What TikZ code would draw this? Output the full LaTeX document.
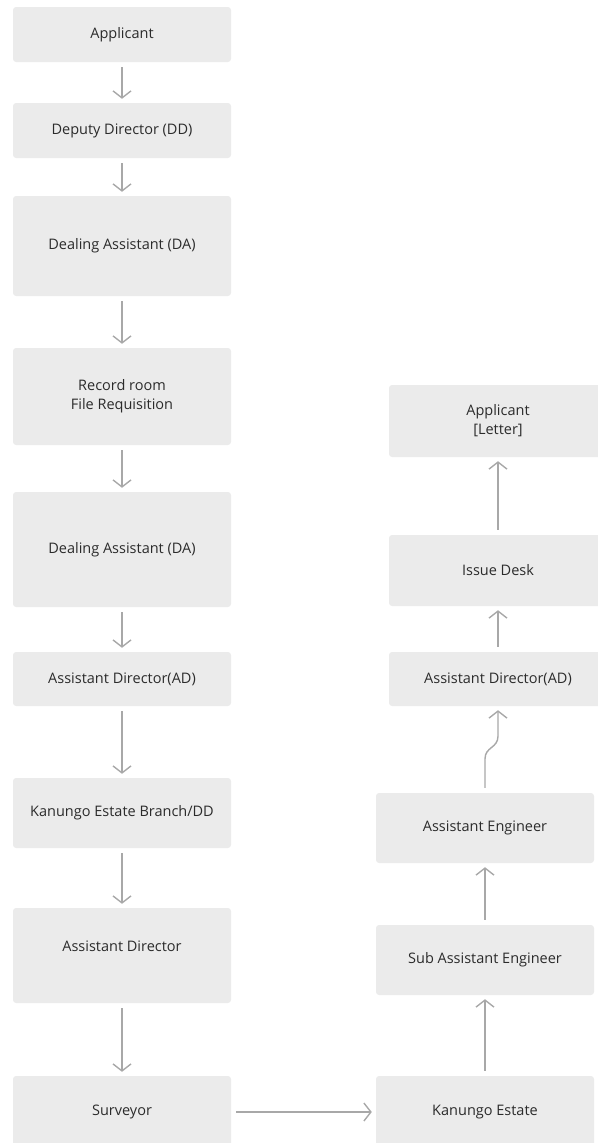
\documentclass[tikz,border=0pt]{standalone}
\usepackage{fontspec}
\setmainfont{Open Sans}
\usepackage{tikz}
\usetikzlibrary{positioning, arrows.meta}
\definecolor{boxGrey}{HTML}{EBEBEB}
\definecolor{lineGrey}{HTML}{A8A8A8}
\definecolor{textDark}{HTML}{2B2B2B}

\begin{document}
\begin{tikzpicture}[x=1pt, y=-1pt, font=\fontsize{14.5}{19}\selectfont,
  stage/.style={fill=boxGrey, rounded corners=3pt, text=textDark, align=center, inner sep=0pt, minimum width=218pt},
  flow/.style={draw=lineGrey, line width=1.4pt, -{Straight Barb[length=7pt, width=18pt, line width=1.4pt]}, shorten <=5pt, shorten >=4pt}]
  \useasboundingbox (0,0) rectangle (597,1143);
  % left column
  \node[stage, minimum height=55pt] (app) at (122,34.5) {Applicant};
  \node[stage, minimum height=55pt] (dd) at (122,130.5) {Deputy Director (DD)};
  \node[stage, minimum height=100pt] (da1) at (122,246) {Dealing Assistant (DA)};
  \node[stage, minimum height=97pt] (rec) at (122,396.5) {Record room\\File Requisition};
  \node[stage, minimum height=115pt] (da2) at (122,549.5) {Dealing Assistant (DA)};
  \node[stage, minimum height=54pt] (ad) at (122,679) {Assistant Director(AD)};
  \node[stage, minimum height=70pt] (keb) at (122,813) {Kanungo Estate Branch/DD};
  \node[stage, minimum height=95pt] (asd) at (122,955.5) {Assistant Director\\[-1pt]};
  \node[stage, minimum height=72pt] (sur) at (122,1112) {Surveyor};
  % right column
  \node[stage, minimum height=72pt] (kes) at (485,1112) {Kanungo Estate};
  \node[stage, minimum height=70pt] (sae) at (485,960) {Sub Assistant Engineer};
  \node[stage, minimum height=70pt] (ae) at (485,828) {Assistant Engineer};
  \node[stage, minimum height=54pt] (adr) at (498,679) {Assistant Director(AD)};
  \node[stage, minimum height=71pt] (isd) at (498,570.5) {Issue Desk};
  \node[stage, minimum height=72pt] (appl) at (498,421) {Applicant\\{[}Letter{]}};
  % down the left
  \draw[flow] (app) -- (dd);
  \draw[flow] (dd) -- (da1);
  \draw[flow] (da1) -- (rec);
  \draw[flow] (rec) -- (da2);
  \draw[flow] (da2) -- (ad);
  \draw[flow] (ad) -- (keb);
  \draw[flow] (keb) -- (asd);
  \draw[flow] (asd) -- (sur);
  % across and up the right
  \draw[flow] (sur) -- (kes);
  \draw[flow] (kes) -- (sae);
  \draw[flow] (sae) -- (ae);
  \coordinate (jog) at ([yshift=-30pt]adr.south);
  \draw[flow] (ae.north) -- ++(0,-34) .. controls +(0,-12) and +(0,12) .. (jog) -- (adr.south);
  \draw[flow] (adr) -- (isd);
  \draw[flow] (isd) -- (appl);
\end{tikzpicture}
\end{document}
